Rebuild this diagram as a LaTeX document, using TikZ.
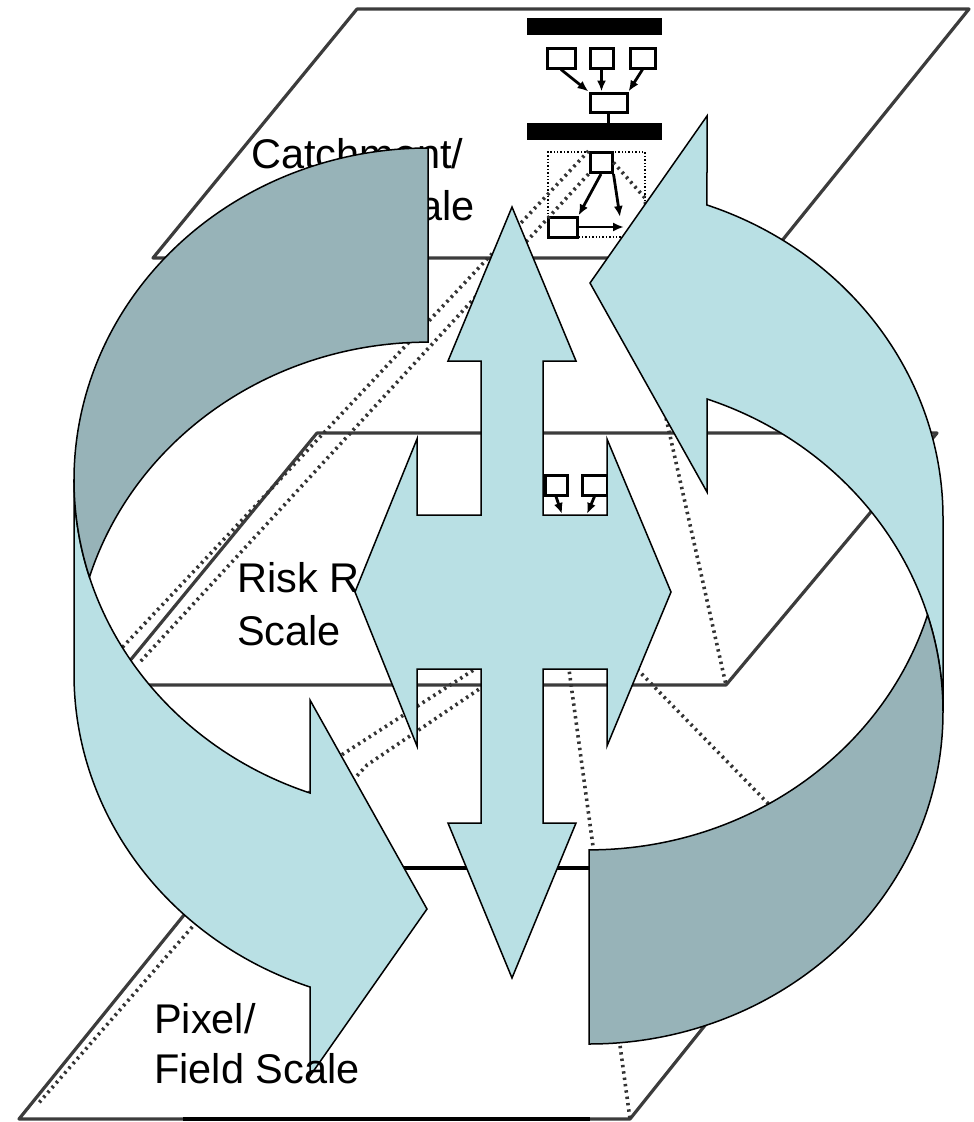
\documentclass[tikz,border=0pt]{standalone}
\usepackage{fontspec}
\setmainfont{Liberation Sans}
\usepackage{xcolor}
\usetikzlibrary{arrows.meta}
\definecolor{bandfront}{HTML}{B9E0E4}
\definecolor{bandback}{HTML}{97B3B8}
\definecolor{edgegray}{HTML}{3C3C3C}
\tikzset{
  plane/.style={edgegray,line width=3.2pt,line join=round},
  dots/.style={black!80,line width=3.6pt,dash pattern=on 2.4pt off 4pt},
  unit/.style={draw,line width=3pt,minimum width=#1,minimum height=20pt,inner sep=0pt},
  bar/.style={fill=black,minimum width=135pt,minimum height=17pt,inner sep=0pt},
  feed/.style={line width=2.8pt,-{Latex[length=11pt,width=9pt]}},
  band/.style={fill=bandfront,draw=black,line width=1.5pt},
  backband/.style={fill=bandback,draw=black,line width=1.5pt},
  lbl/.style={font=\fontsize{41.5}{50}\selectfont,inner sep=0pt}
}
% one half of the ring: front face with head, back face on top
\newcommand{\ringarrow}[1][]{%
  \begin{scope}[#1]
    \draw[band] (74,-480) -- (74,-674)
      arc[start angle=180,end angle=250.53,x radius=354,y radius=332]
      -- (310,-1076) -- (427,-909) -- (310,-700) -- (310,-793)
      arc[start angle=250.53,end angle=180,x radius=354,y radius=332] -- cycle;
    \draw[backband] (428,-148)
      arc[start angle=90,end angle=197,x radius=354,y radius=332]
      arc[start angle=163,end angle=90,x radius=354,y radius=332] -- cycle;
  \end{scope}}

\begin{document}
\begin{tikzpicture}[x=1pt,y=1pt]
  \useasboundingbox (0,0) rectangle (974,-1122);
  % the three scale planes
  \draw[plane] (357,-9) -- (969,-9) -- (768,-258) -- (153,-258) -- cycle;
  \draw[plane] (317,-433) -- (937,-433) -- (726,-685) -- (110,-685) -- cycle;
  \draw[plane] (222,-868) -- (831,-868) -- (630,-1119) -- (19,-1119) -- cycle;
  \draw[line width=4.4pt] (404,-868) -- (590,-868);
  \draw[line width=4pt] (183,-1119) -- (590,-1119);
  \coordinate (midBR) at (726,-685);
  \coordinate (lowTR) at (831,-868);
  \coordinate (lowBR) at (630,-1119);

  % catchment model
  \node[bar] (hub) at (594.5,-26) {};
  \node[unit=28pt] (srcA) at (561,-58) {};
  \node[unit=23pt] (srcB) at (601.5,-58) {};
  \node[unit=25pt] (srcC) at (642.5,-58) {};
  \node[unit=37pt,minimum height=19pt] (merge) at (608.5,-102.5) {};
  \node[bar] (bus) at (594.5,-131.5) {};
  \node[draw,dotted,line width=1.4pt,minimum width=97pt,minimum height=85pt] (frame) at (596.5,-194.5) {};
  \node[unit=22pt] (apex) at (601,-162.5) {};
  \node[unit=29pt] (corner) at (562.5,-227) {};
  \coordinate (apexR) at (620,-217);
  \coordinate (cornerR) at (624,-227);
  \draw[feed] (srcA.south) -- (merge.north west);
  \draw[feed] (srcB.south) -- (srcB.south |- merge.north);
  \draw[feed] (srcC.south) -- (merge.north east);
  \draw[line width=3pt] (merge.south) -- (bus.north -| merge.south);
  \draw[feed] (apex.south) -- (corner.north east);
  \draw[feed] (apex.south east) -- (apexR);
  \draw[feed] (corner.east) -- (cornerR);

  % risk region model
  \node[unit=22pt] (cellA) at (556,-485) {};
  \node[unit=25pt] (cellB) at (594.5,-485) {};
  \coordinate (cellAo) at (562,-514);
  \coordinate (cellBo) at (587,-514);
  \draw[feed] (cellA.south) -- (cellAo);
  \draw[feed] (cellB.south) -- (cellBo);

  % links between the scales
  \coordinate (sinkL1) at (118,-652);
  \coordinate (sinkL2) at (140,-662);
  \coordinate (srcD) at (512,-541);
  \coordinate (srcE) at (565,-640);
  \coordinate (srcF1) at (500,-653);
  \coordinate (srcF2) at (500,-675);
  \draw[dots] (apex.north west) -- (sinkL1);
  \draw[dots] (apex.south west) -- (sinkL2);
  \draw[dots] (apex.east) -- (645,-198) -- (662,-400) -- (midBR);
  \draw[dots] (srcD) -- (lowTR);
  \draw[dots] (srcE) -- (lowBR);
  \draw[dots] (srcF1) -- (343,-754) -- (37,-1105);
  \draw[dots] (srcF2) -- (367,-765) -- (260,-880);

  \node[lbl,anchor=base west] (catchA) at (251,-168) {Catchment/};
  \node[lbl,anchor=base east] (catchB) at (475,-220) {Scale};
  \node[lbl,anchor=base west] (riskA) at (237,-592) {Risk R};
  \node[lbl,anchor=base west] (riskB) at (237,-645) {Scale};

  % the two turning arrows
  \ringarrow
  \ringarrow[rotate around={180:(508.5,-596)}]

  % up/down and sideways arrow
  \draw[band] (512,-207) -- (576,-361) -- (543,-361) -- (543,-515) -- (607,-515) -- (607,-439)
    -- (671,-592) -- (607,-746) -- (607,-669) -- (543,-669) -- (543,-823) -- (576,-823)
    -- (512,-978) -- (448,-823) -- (481,-823) -- (481,-669) -- (417,-669) -- (417,-746)
    -- (355,-592) -- (417,-439) -- (417,-515) -- (481,-515) -- (481,-361) -- (448,-361) -- cycle;

  \node[lbl,anchor=base west] (fieldA) at (154,-1033) {Pixel/};
  \node[lbl,anchor=base west] (fieldB) at (154,-1083) {Field Scale};
\end{tikzpicture}
\end{document}
